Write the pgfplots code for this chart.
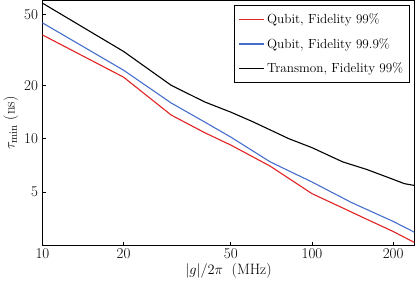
\documentclass[border=0pt]{standalone}
\usepackage{pgfplots}
\pgfplotsset{compat=1.18}
\definecolor{cred}{RGB}{225,35,35}
\definecolor{cblue}{RGB}{70,110,205}
\begin{document}
\begin{tikzpicture}
\begin{axis}[
  scale only axis,
  width=372pt, height=245pt,
  xmode=log, ymode=log,
  xmin=10, xmax=240, ymin=2.5, ymax=60,
  xtick={10,20,50,100,200}, xticklabels={10,20,50,100,200},
  ytick={5,10,20,50}, yticklabels={5,10,20,50},
  minor xtick={}, minor ytick={},
  tick pos=left, tick align=inside,
  major tick length=4pt,
  axis line style={line width=1.1pt},
  every tick/.style={line width=0.8pt, black},
  tick label style={font=\fontsize{15}{17}\selectfont},
  yticklabel style={xshift=-1pt},
  label style={font=\fontsize{15}{17}\selectfont},
  xlabel={$|g|/2\pi\;$ (MHz)},
  ylabel={$\tau_{\mathrm{min}}$ (ns)},
  ylabel style={yshift=-1pt},
  xlabel style={yshift=3pt},
  legend style={at={(rel axis cs:0.987,0.98)}, anchor=north east,
    font=\fontsize{13.2}{15}\selectfont, draw=black, line width=1pt,
    row sep=9pt, inner xsep=4pt, inner ysep=6pt},
  legend cell align=left,
  legend image code/.code={\draw[#1, line width=1.4pt] (0pt,0pt) -- (25pt,0pt);},
]
\addplot[cred, line width=1.1pt] coordinates {
(10,38.4) (20,22.2) (30,13.6) (40,10.8) (50,9.2) (70,7.0) (100,4.9) (130,4.07) (160,3.51) (200,3.0) (240,2.6)};
\addlegendentry{Qubit, Fidelity 99\%}
\addplot[cblue, line width=1.1pt] coordinates {
(10,44.9) (20,24.3) (30,15.9) (40,12.4) (50,10.2) (70,7.4) (100,5.7) (140,4.37) (200,3.42) (240,2.97)};
\addlegendentry{Qubit, Fidelity 99.9\%}
\addplot[black, line width=1.1pt] coordinates {
(10,58) (20,31) (30,20) (40,16.1) (50,14.1) (60,12.5) (70,11.2) (82,10) (100,8.9) (130,7.4) (160,6.7) (200,5.9) (220,5.58) (240,5.45)};
\addlegendentry{Transmon, Fidelity 99\%}
\end{axis}
\end{tikzpicture}
\end{document}
